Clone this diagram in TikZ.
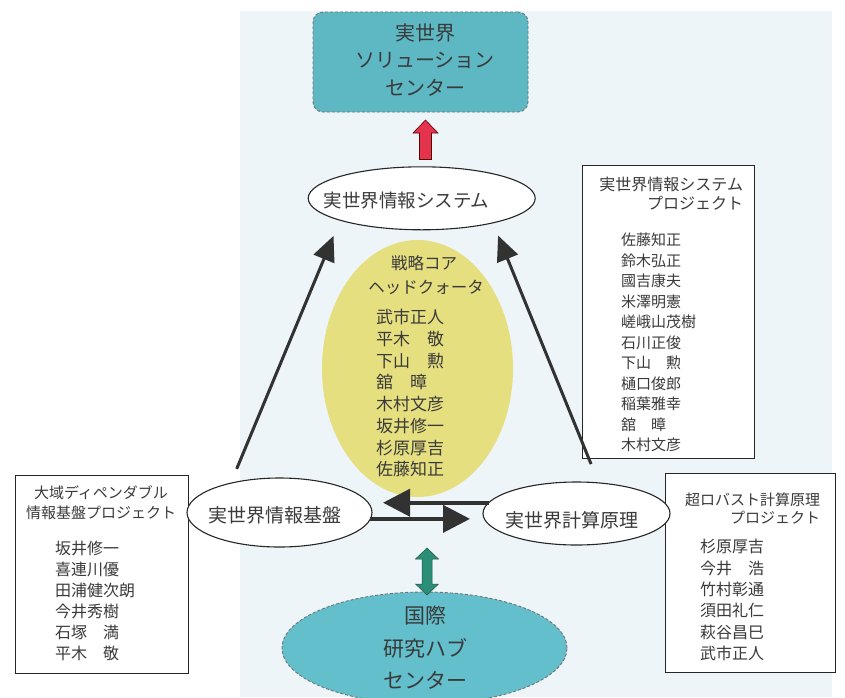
\documentclass[tikz,border=0pt]{standalone}
\usepackage{fontspec}
\setmainfont{Noto Sans CJK JP}
\usetikzlibrary{shapes.geometric,arrows.meta}
\definecolor{ink}{HTML}{3A3A3A}
\definecolor{bgblue}{HTML}{EDF5F9}
\definecolor{solteal}{HTML}{5DB8C4}
\definecolor{hubteal}{HTML}{62BFCB}
\definecolor{coreyellow}{HTML}{E6DF80}
\definecolor{arrowdark}{HTML}{323232}
\definecolor{redarrow}{HTML}{E4334C}
\definecolor{greenarrow}{HTML}{2D8E78}
\newcommand\jfs[2]{\fontsize{#1pt}{#2pt}\selectfont}
\begin{document}
\begin{tikzpicture}[x=1pt,y=-1pt,
  every node/.style={inner sep=0pt, outer sep=0pt, text=ink},
  solbox/.style={rectangle, draw=black!55, dash pattern=on 3pt off 2pt, line width=0.9pt, fill=solteal, rounded corners=10pt},
  hubell/.style={ellipse, draw=black!55, dash pattern=on 3pt off 2pt, line width=0.9pt, fill=hubteal},
  ellnode/.style={ellipse, draw=black!85, line width=1.1pt, fill=white},
  coreell/.style={ellipse, fill=coreyellow},
  plainbox/.style={rectangle, draw=black!85, line width=1pt, fill=white},
  diag/.style={draw=arrowdark, line width=3pt, -{Triangle[length=25pt,width=22pt]}},
  harrow/.style={draw=arrowdark, line width=4pt, -{Triangle[length=27pt,width=27pt]}},
  namelist/.style={align=left, anchor=north west},
]
\useasboundingbox (0,0) rectangle (845,697);
\fill[white] (0,0) rectangle (845,697);
\fill[bgblue] (240,11) rectangle (832,697);

% top solution center
\node[solbox, minimum width=215pt, minimum height=100pt] (sol) at (420.5,62) {};
\node[font=\jfs{20}{27.5}, align=center] (solt) at (425,60) {実世界\\ソリューション\\センター};

% red arrow
\filldraw[fill=redarrow, draw=red!35!black, line width=0.6pt]
  (425.5,120) -- (438,133) -- (431.5,133) -- (431.5,159.5) -- (419.5,159.5) -- (419.5,133) -- (413,133) -- cycle;

% boxes
\node[plainbox, minimum width=172pt, minimum height=293pt] (rtbox) at (668,311.5) {};
\node[font=\jfs{16}{19}, align=right, anchor=east] (rtboxt) at (743,193.5) {実世界情報システム\\プロジェクト};
\node[font=\jfs{15}{20.5}, namelist] (rtboxn) at (621,233.2) {佐藤知正\\鈴木弘正\\國吉康夫\\米澤明憲\\嵯峨山茂樹\\石川正俊\\下山　勲\\樋口俊郎\\稲葉雅幸\\舘　暲\\木村文彦};

\node[plainbox, minimum width=173pt, minimum height=198pt] (lbox) at (101.5,574) {};
\node[font=\jfs{15}{20}, align=center] (lboxt) at (101,503) {大域ディペンダブル\\情報基盤プロジェクト};
\node[font=\jfs{16}{21}, namelist] (lboxn) at (55,541) {坂井修一\\喜連川優\\田浦健次朗\\今井秀樹\\石塚　満\\平木　敬};

\node[plainbox, minimum width=170pt, minimum height=199pt] (rbbox) at (750,572.5) {};
\node[font=\jfs{15}{18}, align=right, anchor=east] (rbboxt) at (820,508) {超ロバスト計算原理\\プロジェクト};
\node[font=\jfs{16}{21.3}, namelist] (rbboxn) at (700,539.5) {杉原厚吉\\今井　浩\\竹村彰通\\須田礼仁\\萩谷昌巳\\武市正人};

% core
\node[coreell, minimum width=191pt, minimum height=257pt] (core) at (417.5,368.5) {};
\node[font=\jfs{16.5}{20}] (coret1) at (424,263) {戦略コア};
\node[font=\jfs{16.5}{20}] (coret2) at (426,287) {ヘッドクォータ};
\node[font=\jfs{17}{21.7}, namelist] (coren) at (376,309.5) {武市正人\\平木　敬\\下山　勲\\舘　暲\\木村文彦\\坂井修一\\杉原厚吉\\佐藤知正};

% ellipses
\node[ellnode, minimum width=227pt, minimum height=63pt] (sys) at (421.7,198.3) {};
\node[font=\jfs{18.5}{22}] (syst) at (406.5,201) {実世界情報システム};
\node[ellnode, minimum width=185pt, minimum height=69pt] (kiban) at (279.5,512.5) {};
\node[font=\jfs{19}{22}] (kibant) at (275,515) {実世界情報基盤};
\node[ellnode, minimum width=187pt, minimum height=63pt] (keisan) at (576.5,513.5) {};
\node[font=\jfs{19}{22}] (keisant) at (572,520) {実世界計算原理};

% hub
\node[hubell, minimum width=285pt, minimum height=112pt] (hub) at (424.5,648) {};
\node[font=\jfs{21}{32.5}, align=center] (hubt) at (425,648) {国際\\研究ハブ\\センター};

% green double arrow
\filldraw[fill=greenarrow, draw=greenarrow!60!black, line width=0.5pt]
  (427,548) -- (438.5,559) -- (432,559) -- (432,584) -- (438.5,584) -- (427,595)
  -- (415.5,584) -- (422,584) -- (422,559) -- (415.5,559) -- cycle;

% connectors
\draw[diag, shorten <=15.5pt, shorten >=17pt] (kiban.149.5) -- (sys.195.3);
\draw[diag, shorten <=20.3pt, shorten >=13.8pt] (keisan.54.25) -- (sys.341.6);
\draw[harrow, shorten >=11pt] (keisan.173.2) -- (keisan.173.2 -| kiban.east);
\draw[harrow, shorten >=13pt] (kiban.-4.75) -- (kiban.-4.75 -| keisan.west);
\end{tikzpicture}
\end{document}
